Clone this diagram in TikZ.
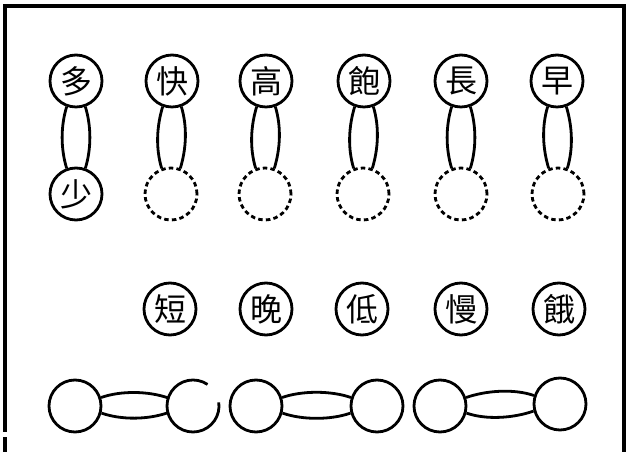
\documentclass[tikz,border=0pt]{standalone}
\usepackage{fontspec}
\newfontfamily\cjk{Noto Sans CJK TC}
\begin{document}
\begin{tikzpicture}[x=1pt,y=1pt,
  ring/.style={circle,draw,line width=2.8pt,minimum size=52pt,inner sep=0pt,font=\cjk\fontsize{32}{32}\selectfont},
  dring/.style={ring,dash pattern=on 4.5pt off 3.2pt},
  hole/.style={ring,draw=none},
  link/.style={line width=2.8pt},
  frame/.style={line width=3.5pt}]
\useasboundingbox (0,0) rectangle (630,452);
% frame
\draw[frame] (5,20) -- (5,446) -- (624,446) -- (624,0);
\draw[frame] (5,0) -- (5,15);
% top row
\node[ring] (t1) at (76,371) {多};
\node[ring] (t2) at (172,371) {快};
\node[ring] (t3) at (266,371) {高};
\node[ring] (t4) at (364,371) {飽};
\node[ring] (t5) at (461,371) {長};
\node[ring] (t6) at (557,371) {早};
% lower partners
\node[ring] (b1) at (76,258) {少};
\node[dring] (b2) at (171,258) {};
\node[dring] (b3) at (265,258) {};
\node[dring] (b4) at (363,258) {};
\node[dring] (b5) at (461,258) {};
\node[dring] (b6) at (558,258) {};
% vertical double links
\foreach \i in {1,...,6}{
  \draw[link] (t\i.250) .. controls +(-6,-20) and +(-6,20) .. (b\i.110);
  \draw[link] (t\i.290) .. controls +(6,-20) and +(6,20) .. (b\i.70);
}
% second row
\node[ring] (s1) at (170,143) {短};
\node[ring] (s2) at (266,143) {晚};
\node[ring] (s3) at (362,143) {低};
\node[ring] (s4) at (461,143) {慢};
\node[ring] (s5) at (559,143) {餓};
% bottom row
\node[ring] (c1) at (75,46) {};
\node[hole] (c2) at (193,46) {};
\draw[link] ([shift={(56:26)}]c2.center) arc[start angle=56,end angle=368,radius=26];
\node[ring] (c3) at (256,46) {};
\node[ring] (c4) at (377,46) {};
\node[ring] (c5) at (440,46) {};
\node[ring] (c6) at (560,48) {};
\draw[link] (c1.18) .. controls +(20,7) and +(-20,7) .. ([shift={(162:26)}]c2.center);
\draw[link] (c1.-15) .. controls +(20,-7) and +(-20,-7) .. ([shift={(-165:26)}]c2.center);
\draw[link] (c3.18) .. controls +(20,7) and +(-20,7) .. (c4.162);
\draw[link] (c3.-15) .. controls +(20,-7) and +(-20,-7) .. (c4.-165);
\draw[link] (c5.18) .. controls +(20,7) and +(-20,7) .. (c6.162);
\draw[link] (c5.-15) .. controls +(20,-7) and +(-20,-7) .. (c6.-165);
\end{tikzpicture}
\end{document}
